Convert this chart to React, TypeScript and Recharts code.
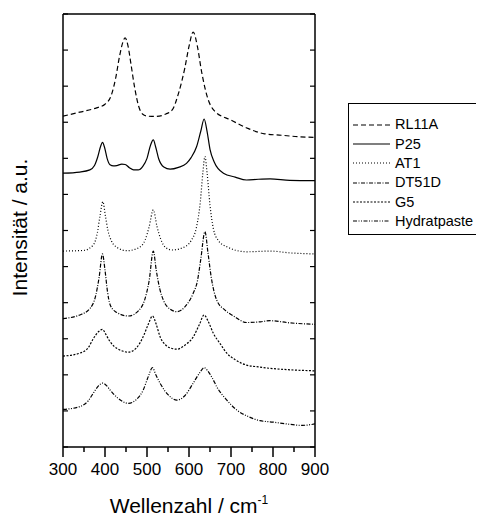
import React from "react";
import { LineChart, Line, XAxis, YAxis, Legend } from "recharts";

// Raman spectra, intensity in arbitrary units (stacked offsets)
const rl11a = [
  [300, 9.17], [340, 9.28], [380, 9.4], [400, 9.5], [415, 9.75], [425, 10.2],
  [435, 10.85], [442, 11.2], [448, 11.34], [455, 11.1], [462, 10.6], [470, 10.0],
  [480, 9.45], [490, 9.22], [500, 9.17], [520, 9.16], [545, 9.23], [560, 9.34],
  [575, 9.8], [590, 10.5], [600, 11.1], [610, 11.5], [620, 11.1], [630, 10.4],
  [645, 9.65], [660, 9.32], [700, 9.06], [740, 8.83], [780, 8.68], [820, 8.64],
  [860, 8.6], [900, 8.58],
];

const p25 = [
  [300, 7.59], [340, 7.62], [364, 7.68], [375, 7.8], [383, 8.05], [390, 8.35],
  [394, 8.44], [399, 8.3], [405, 8.0], [412, 7.82], [420, 7.79], [428, 7.8],
  [440, 7.84], [448, 7.83], [458, 7.74], [468, 7.68], [479, 7.68], [490, 7.78],
  [500, 8.0], [508, 8.35], [515, 8.51], [521, 8.3], [528, 7.98], [540, 7.76],
  [555, 7.7], [575, 7.75], [594, 7.86], [605, 8.02], [618, 8.32], [628, 8.75],
  [636, 9.09], [643, 8.75], [650, 8.25], [660, 7.9], [682, 7.59], [710, 7.48],
  [737, 7.4], [765, 7.42], [793, 7.43], [840, 7.39], [900, 7.38],
];

const at1 = [
  [300, 5.43], [350, 5.45], [372, 5.6], [382, 5.95], [388, 6.4], [395, 6.8],
  [401, 6.4], [407, 6.0], [415, 5.72], [430, 5.52], [452, 5.44], [480, 5.52],
  [496, 5.75], [505, 6.1], [515, 6.57], [524, 6.1], [533, 5.75], [545, 5.52],
  [560, 5.46], [590, 5.55], [605, 5.72], [618, 6.1], [627, 6.8], [633, 7.6],
  [638, 8.05], [643, 7.6], [650, 6.7], [658, 6.05], [670, 5.72], [690, 5.55],
  [737, 5.41], [793, 5.43], [840, 5.38], [900, 5.35],
];

const dt51d = [
  [300, 3.56], [340, 3.66], [365, 3.85], [378, 4.2], [386, 4.7], [394, 5.35],
  [400, 4.9], [406, 4.3], [412, 3.95], [425, 3.75], [456, 3.63], [480, 3.78],
  [495, 4.1], [505, 4.6], [515, 5.43], [522, 4.9], [530, 4.4], [539, 4.07],
  [555, 3.82], [571, 3.75], [595, 3.95], [610, 4.26], [620, 4.6], [628, 5.2],
  [638, 5.97], [645, 5.4], [653, 4.7], [666, 4.07], [685, 3.8], [706, 3.63],
  [737, 3.45], [770, 3.47], [793, 3.5], [840, 3.44], [900, 3.4],
];

const g5 = [
  [300, 2.52], [340, 2.6], [360, 2.75], [372, 3.0], [385, 3.2], [394, 3.26],
  [402, 3.12], [412, 2.92], [430, 2.72], [456, 2.63], [475, 2.75], [491, 3.06],
  [503, 3.4], [513, 3.63], [522, 3.4], [531, 3.06], [545, 2.82], [560, 2.73],
  [571, 2.71], [590, 2.82], [610, 3.05], [625, 3.4], [636, 3.66], [645, 3.5],
  [658, 3.15], [675, 2.85], [690, 2.6], [710, 2.42], [737, 2.27], [765, 2.22],
  [793, 2.18], [840, 2.14], [900, 2.11],
];

const hydratpaste = [
  [300, 1.04], [340, 1.12], [360, 1.28], [372, 1.49], [385, 1.7], [394, 1.77],
  [402, 1.72], [412, 1.58], [430, 1.36], [456, 1.21], [475, 1.32], [491, 1.58],
  [503, 1.95], [513, 2.2], [521, 2.0], [531, 1.77], [550, 1.45], [571, 1.3],
  [590, 1.42], [610, 1.77], [625, 2.05], [636, 2.2], [645, 2.1], [656, 1.9],
  [666, 1.67], [690, 1.3], [713, 1.03], [740, 0.85], [769, 0.73], [800, 0.69],
  [832, 0.64], [870, 0.6], [900, 0.64],
];

const seriesNames = ["RL11A", "P25", "AT1", "DT51D", "G5", "Hydratpaste"];
const seriesData = [rl11a, p25, at1, dt51d, g5, hydratpaste];

const xTicks = [300, 350, 400, 450, 500, 550, 600, 650, 700, 750, 800, 850, 900];
const yTicks = [0, 1, 2, 3, 4, 5, 6, 7, 8, 9, 10, 11, 12];

const dashes: Record<string, string | undefined> = {
  RL11A: "5 3",
  P25: undefined,
  AT1: "1 2",
  DT51D: "4 1.5 1 1.5",
  G5: "2 1.5",
  Hydratpaste: "4 1.5 1 1.5 1 1.5",
};

const font = "'Liberation Sans', Arial, Helvetica, sans-serif";

const BottomTick = (props: any) => {
  const { x, y, payload } = props;
  const major = payload.value % 100 === 0;
  return (
    <g>
      <line x1={x} x2={x} y1={y} y2={y + (major ? 10 : 5)} stroke="#000" strokeWidth={1.5} />
      {major && (
        <text x={x} y={y + 28} textAnchor="middle" fontSize={17} fontFamily={font} fill="#000">
          {payload.value}
        </text>
      )}
    </g>
  );
};

const TopTick = (props: any) => {
  const { x, y, payload } = props;
  const major = payload.value % 100 === 0;
  return <line x1={x} x2={x} y1={y} y2={y - (major ? 10 : 5)} stroke="#000" strokeWidth={1.5} />;
};

const LeftTick = (props: any) => {
  const { x, y } = props;
  return <line x1={x} x2={x + 5} y1={y} y2={y} stroke="#000" strokeWidth={1.2} />;
};

const RightTick = (props: any) => {
  const { x, y } = props;
  return <line x1={x} x2={x - 5} y1={y} y2={y} stroke="#000" strokeWidth={1.2} />;
};

const XTitle = (props: any) => {
  const { x, y, width } = props.viewBox;
  return (
    <text x={x + width / 2} y={y + 66} textAnchor="middle" fontSize={21} fontFamily={font} fill="#000">
      Wellenzahl / cm
      <tspan fontSize={12} dy={-9}>-1</tspan>
    </text>
  );
};

const YTitle = (props: any) => {
  const { x, y, width, height } = props.viewBox;
  const cx = x + width - 44;
  const cy = y + height / 2 - 3;
  return (
    <text
      x={cx}
      y={cy}
      transform={`rotate(-90 ${cx} ${cy})`}
      textAnchor="middle"
      dominantBaseline="central"
      fontSize={21}
      fontFamily={font}
      fill="#000"
    >
      Intensität / a.u.
    </text>
  );
};

const LegendBox = (props: any) => {
  const { payload } = props;
  const ordered = seriesNames
    .map((n) => payload.find((p: any) => p.value === n))
    .filter(Boolean);
  return (
    <div
      style={{
        border: "1px solid #000",
        boxSizing: "border-box",
        width: 134,
        height: 132,
        paddingTop: 11,
        background: "#fff",
        fontFamily: font,
      }}
    >
      {ordered.map((entry: any) => (
        <div key={entry.value} style={{ display: "flex", alignItems: "center", height: 19.3 }}>
          <svg width={37} height={8} style={{ marginLeft: 4, marginRight: 5 }}>
            <line x1={0} x2={37} y1={4} y2={4} stroke="#000" strokeWidth={1.1} strokeDasharray={dashes[entry.value]} />
          </svg>
          <span style={{ fontSize: 14.5, color: "#000", lineHeight: 1 }}>{entry.value}</span>
        </div>
      ))}
    </div>
  );
};

export default function App() {
  return (
    <div style={{ margin: -8, width: 484, height: 521, background: "#fff" }}>
      <LineChart width={484} height={521} margin={{ top: 13, right: 168, left: 62, bottom: 73 }}>
        <XAxis
          xAxisId="bottom"
          dataKey="x"
          type="number"
          domain={[300, 900]}
          ticks={xTicks}
          interval={0}
          height={1}
          tickSize={0}
          tickMargin={0}
          tickLine={false}
          tick={<BottomTick />}
          axisLine={{ stroke: "#000", strokeWidth: 1.5 }}
          allowDataOverflow
          label={<XTitle />}
        />
        <XAxis
          xAxisId="top"
          orientation="top"
          type="number"
          domain={[300, 900]}
          ticks={xTicks}
          interval={0}
          height={1}
          tickSize={0}
          tickMargin={0}
          tickLine={false}
          tick={<TopTick />}
          axisLine={{ stroke: "#000", strokeWidth: 1.5 }}
          allowDataOverflow
        />
        <YAxis
          yAxisId="left"
          type="number"
          domain={[0, 12]}
          ticks={yTicks}
          interval={0}
          width={1}
          tickSize={0}
          tickMargin={0}
          tickLine={false}
          tick={<LeftTick />}
          axisLine={{ stroke: "#000", strokeWidth: 1.5 }}
          allowDataOverflow
          label={<YTitle />}
        />
        <YAxis
          yAxisId="right"
          orientation="right"
          type="number"
          domain={[0, 12]}
          ticks={yTicks}
          interval={0}
          width={1}
          tickSize={0}
          tickMargin={0}
          tickLine={false}
          tick={<RightTick />}
          axisLine={{ stroke: "#000", strokeWidth: 1.5 }}
          allowDataOverflow
        />
        {seriesNames.map((name, i) => (
          <Line
            key={name}
            xAxisId="bottom"
            yAxisId="left"
            name={name}
            data={seriesData[i].map(([x, y]) => ({ x, y }))}
            dataKey="y"
            type="monotone"
            stroke="#000"
            strokeWidth={1.2}
            strokeDasharray={dashes[name]}
            dot={false}
            activeDot={false}
            isAnimationActive={false}
          />
        ))}
        <Legend
          layout="vertical"
          align="center"
          verticalAlign="middle"
          content={<LegendBox />}
          wrapperStyle={{ left: 348, top: 103, width: 134, height: 132 }}
        />
      </LineChart>
    </div>
  );
}
